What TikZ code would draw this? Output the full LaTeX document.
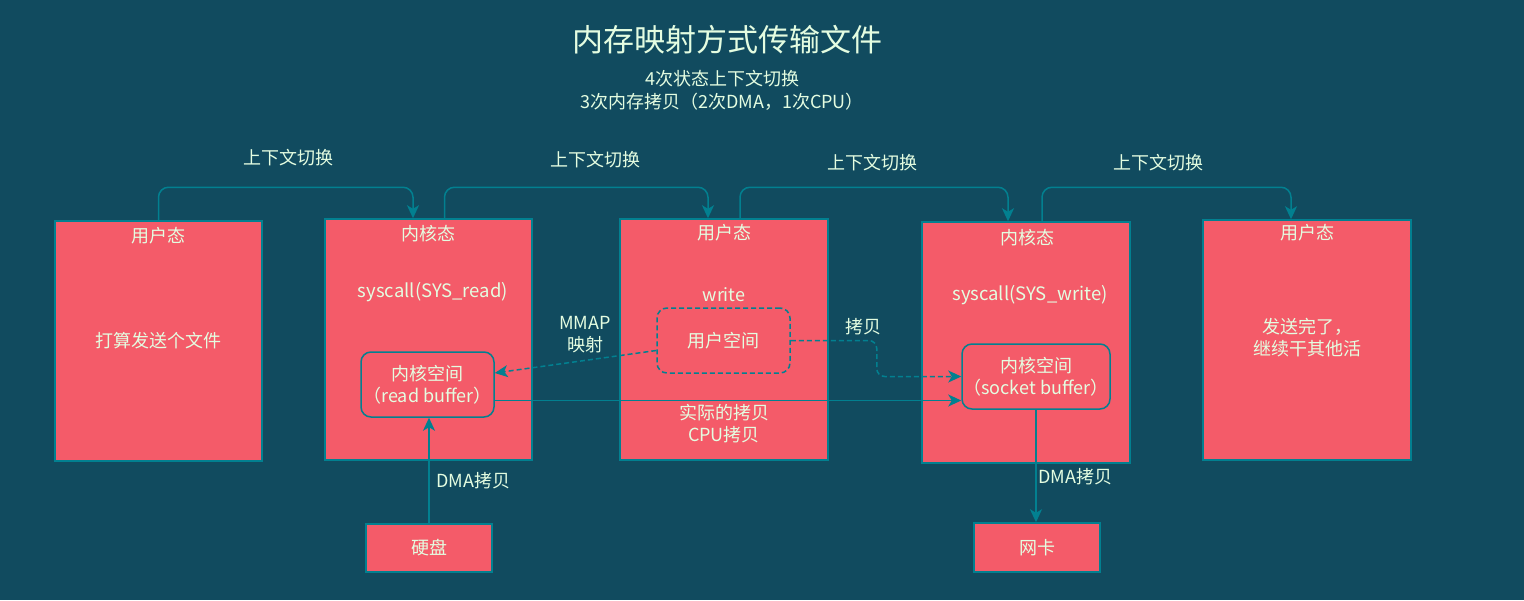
\documentclass[tikz,border=0pt]{standalone}
\usepackage{fontspec}
\setmainfont{Noto Sans CJK SC}
\usetikzlibrary{arrows.meta}
\definecolor{bg}{HTML}{114B5F}
\definecolor{boxfill}{HTML}{F45B69}
\definecolor{edge}{HTML}{028090}
\definecolor{txt}{HTML}{E4FDE1}
\begin{document}
\begin{tikzpicture}[x=1pt,y=-1pt,
 box/.style={draw=edge, line width=1.5pt, fill=boxfill, inner sep=0pt},
 innerbox/.style={box, rounded corners=10pt},
 dinnerbox/.style={innerbox, dash pattern=on 5pt off 3pt},
 lbl/.style={text=txt, font=\fontsize{18}{22}\selectfont, inner sep=0pt, align=center},
 conn/.style={draw=edge, line width=1.5pt, -{Stealth[length=13pt,width=12pt,inset=3.5pt]}},
 dconn/.style={conn, dash pattern=on 5pt off 3pt}]
\fill[bg] (0,0) rectangle (1524,600);
% title
\node[lbl, font=\fontsize{31}{36}\selectfont] (title) at (727,40) {内存映射方式传输文件};
\node[lbl, font=\fontsize{18}{23}\selectfont] (sub) at (722,90) {4次状态上下文切换\\3次内存拷贝（2次DMA，1次CPU）};
% main boxes
\node[box, minimum width=207pt, minimum height=240pt] (b1) at (158.5,341) {};
\node[box, minimum width=207pt, minimum height=241pt] (b2) at (428.5,339.5) {};
\node[box, minimum width=208pt, minimum height=241pt] (b3) at (724,339.5) {};
\node[box, minimum width=208pt, minimum height=241pt] (b4) at (1026,342.5) {};
\node[box, minimum width=208pt, minimum height=240pt] (b5) at (1307,340) {};
% inner boxes
\node[innerbox, minimum width=133pt, minimum height=65pt] (rb) at (427.5,384.5) {};
\node[dinnerbox, minimum width=133pt, minimum height=65pt] (us) at (723.5,340.5) {};
\node[innerbox, minimum width=148pt, minimum height=65pt] (sb) at (1036,376.5) {};
\node[box, minimum width=126pt, minimum height=48pt] (disk) at (429,548) {};
\node[box, minimum width=126pt, minimum height=49pt] (nic) at (1037,547.5) {};
% box texts
\node[lbl] (t1a) at (158.5,236) {用户态};
\node[lbl] (t1b) at (158.5,341) {打算发送个文件};
\node[lbl] (t2a) at (428.5,234) {内核态};
\node[lbl, font=\fontsize{18.5}{22}\selectfont] (t2b) at (433,292) {syscall(SYS\_read)};
\node[lbl] (t3a) at (724,233) {用户态};
\node[lbl] (t3b) at (724,295) {write};
\node[lbl] (t3c) at (724,424) {实际的拷贝\\CPU拷贝};
\node[lbl] (t4a) at (1027,238) {内核态};
\node[lbl, font=\fontsize{18.5}{22}\selectfont] (t4b) at (1030,295) {syscall(SYS\_write)};
\node[lbl] (t5a) at (1307,233) {用户态};
\node[lbl] (t5b) at (1307,338) {发送完了，\\继续干其他活};
\node[lbl] (trb) at (rb) {内核空间\\（read buffer）};
\node[lbl] (tus) at (us) {用户空间};
\node[lbl] (tsb) at (sb) {内核空间\\（socket buffer）};
\node[lbl] (tdisk) at (disk) {硬盘};
\node[lbl] (tnic) at (nic) {网卡};
% context switch arrows
\draw[conn, rounded corners=10pt] (b1.north) -- ++(0,-33) -| ([xshift=-15.5pt]b2.north);
\draw[conn, rounded corners=10pt] ([xshift=16pt]b2.north) -- ++(0,-31) -| ([xshift=-16pt]b3.north);
\draw[conn, rounded corners=10pt] ([xshift=16pt]b3.north) -- ++(0,-31) -| ([xshift=-18pt]b4.north);
\draw[conn, rounded corners=10pt] ([xshift=16pt]b4.north) -- ++(0,-34) -| ([xshift=-16pt]b5.north);
\node[lbl] (cs1) at (288,158) {上下文切换};
\node[lbl] (cs2) at (595,160) {上下文切换};
\node[lbl] (cs3) at (872,163) {上下文切换};
\node[lbl] (cs4) at (1158,163) {上下文切换};
% data arrows
\draw[dconn] ([yshift=-10pt]us.west) -- ([yshift=11.5pt]rb.east);
\node[lbl] (mmap) at (585,335) {MMAP\\映射};
\draw[conn] ([yshift=-16pt]rb.east) -- ([yshift=-16pt]rb.east -| sb.west);
\draw[dconn, rounded corners=8pt] (us.east) -- ++(86,0) |- (sb.west);
\node[lbl] (cp) at (863,327) {拷贝};
\draw[conn] (disk.north) -- (disk.north |- rb.south);
\node[lbl, anchor=west] (dma1) at (436,481) {DMA拷贝};
\draw[conn] (sb.south) -- (sb.south |- nic.north);
\node[lbl, anchor=west] (dma2) at (1038,477) {DMA拷贝};
\end{tikzpicture}
\end{document}
